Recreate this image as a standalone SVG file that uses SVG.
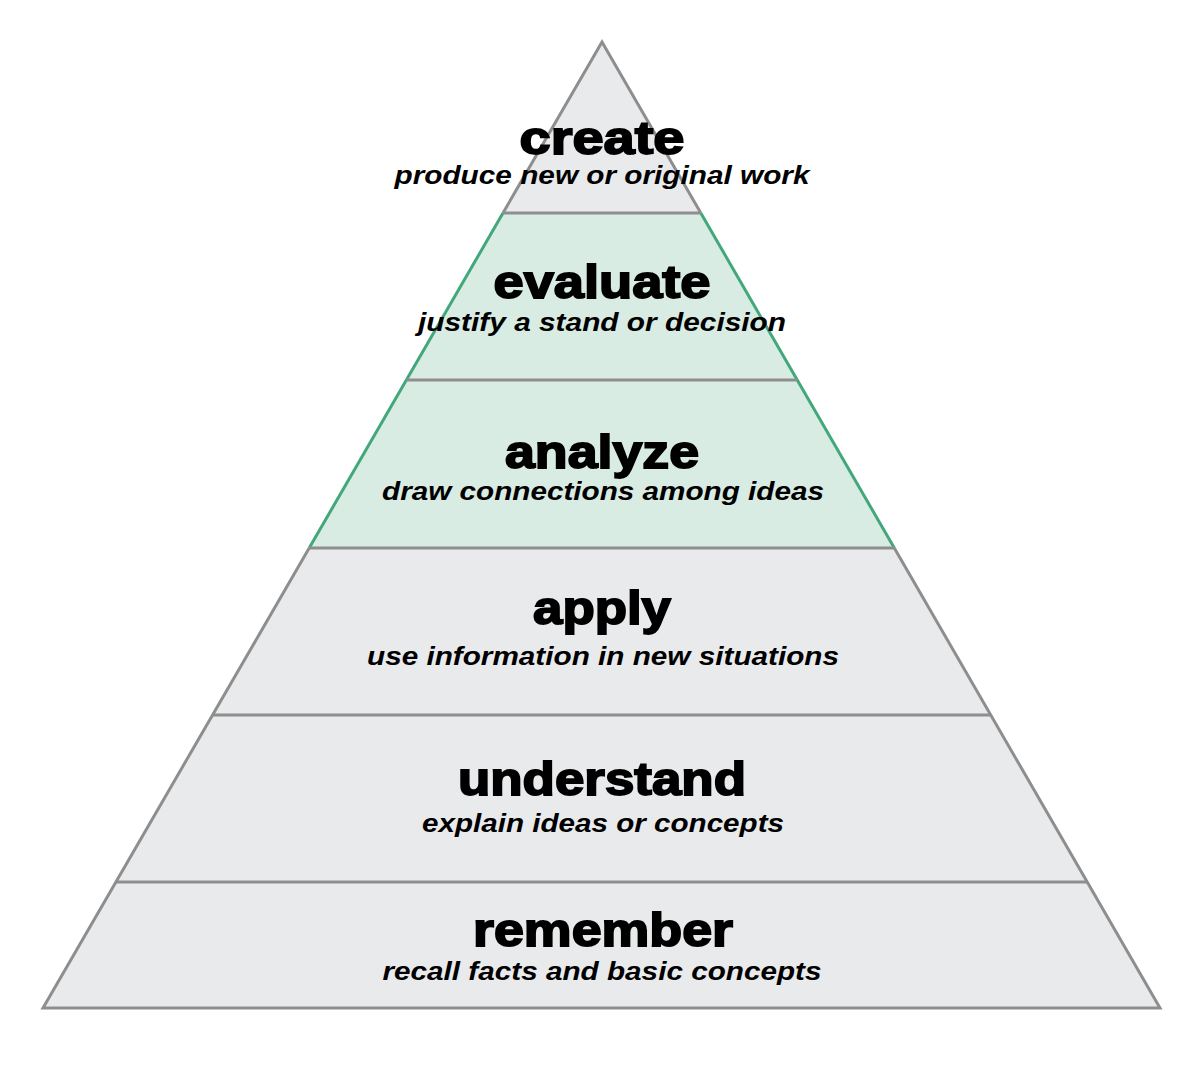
<svg xmlns="http://www.w3.org/2000/svg" width="1200" height="1066" viewBox="0 0 1200 1066">
<style>
.gray{fill:#e9eaec;stroke:none}
.green{fill:#d9ece3;stroke:none}
.line{stroke:#8e8e8e;stroke-width:3;fill:none;stroke-linejoin:miter}
.gline{stroke:#43a77c;stroke-width:3;fill:none}
.t{font-family:"Liberation Sans",Arial,sans-serif;font-weight:bold;font-size:46px;fill:#000;stroke:#000;stroke-width:1.8;text-anchor:middle}
.s{font-family:"Liberation Sans",Arial,sans-serif;font-weight:bold;font-style:italic;font-size:26.5px;fill:#000;text-anchor:middle}
</style>
<rect width="1200" height="1066" fill="#fff"/>
<g id="create">
<polygon class="gray" points="602,42 700.8,213 503,213"/>
</g>
<g id="evaluate">
<polygon class="green" points="503,213 700.8,213 797.2,380 406.4,380"/>
</g>
<g id="analyze">
<polygon class="green" points="406.4,380 797.2,380 894.3,548 309.2,548"/>
</g>
<g id="apply">
<polygon class="gray" points="309.2,548 894.3,548 990.8,715 212.6,715"/>
</g>
<g id="understand">
<polygon class="gray" points="212.6,715 990.8,715 1087.2,882 115.9,882"/>
</g>
<g id="remember">
<polygon class="gray" points="115.9,882 1087.2,882 1160,1008 43,1008"/>
</g>
<g id="connectors">
<polyline class="line" points="503,213 602,42 700.8,213"/>
<polyline class="line" points="309.2,548 43,1008 1160,1008 894.3,548"/>
<polyline class="gline" points="503,213 309.2,548"/>
<polyline class="gline" points="700.8,213 894.3,548"/>
<line class="line" x1="503" y1="213" x2="700.8" y2="213"/>
<line class="line" x1="406.4" y1="380" x2="797.2" y2="380"/>
<line class="line" x1="309.2" y1="548" x2="894.3" y2="548"/>
<line class="line" x1="212.6" y1="715" x2="990.8" y2="715"/>
<line class="line" x1="115.9" y1="882" x2="1087.2" y2="882"/>
</g>
<g id="create-label">
<text class="t" x="602" y="154" textLength="165" lengthAdjust="spacingAndGlyphs">create</text>
<text class="s" x="602" y="184" textLength="415" lengthAdjust="spacingAndGlyphs">produce new or original work</text>
</g>
<g id="evaluate-label">
<text class="t" x="602" y="298" textLength="217" lengthAdjust="spacingAndGlyphs">evaluate</text>
<text class="s" x="602" y="331" textLength="368" lengthAdjust="spacingAndGlyphs">justify a stand or decision</text>
</g>
<g id="analyze-label">
<text class="t" x="602" y="468" textLength="194" lengthAdjust="spacingAndGlyphs">analyze</text>
<text class="s" x="603" y="500" textLength="442" lengthAdjust="spacingAndGlyphs">draw connections among ideas</text>
</g>
<g id="apply-label">
<text class="t" x="602" y="624" textLength="138" lengthAdjust="spacingAndGlyphs">apply</text>
<text class="s" x="603" y="665" textLength="472" lengthAdjust="spacingAndGlyphs">use information in new situations</text>
</g>
<g id="understand-label">
<text class="t" x="602" y="795" textLength="288" lengthAdjust="spacingAndGlyphs">understand</text>
<text class="s" x="603" y="832" textLength="362" lengthAdjust="spacingAndGlyphs">explain ideas or concepts</text>
</g>
<g id="remember-label">
<text class="t" x="603" y="946" textLength="260" lengthAdjust="spacingAndGlyphs">remember</text>
<text class="s" x="602" y="980" textLength="439" lengthAdjust="spacingAndGlyphs">recall facts and basic concepts</text>
</g>
</svg>
